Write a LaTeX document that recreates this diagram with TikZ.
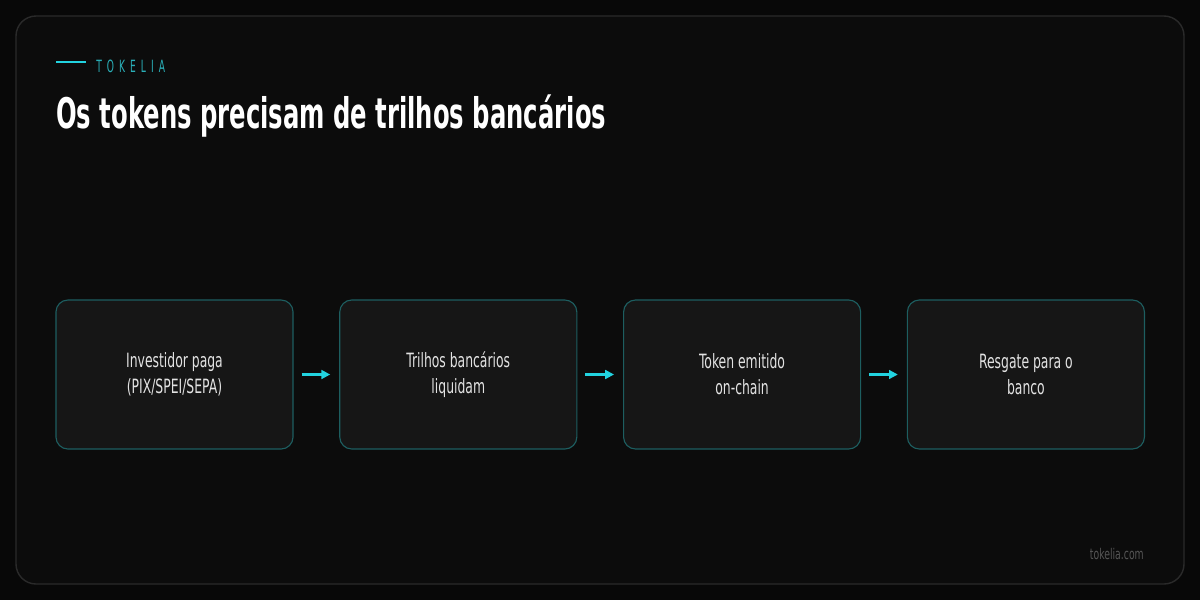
\documentclass[tikz,border=0pt]{standalone}
\usepackage{fontspec}
\setmainfont[FakeStretch=0.7]{DejaVu Sans Condensed}
\newfontfamily\titlefont[FakeStretch=0.64]{DejaVu Sans Condensed Bold}
\newfontfamily\kickerfont[FakeStretch=0.6,LetterSpace=30]{DejaVu Sans Condensed}
\usetikzlibrary{positioning, arrows.meta}

\definecolor{bgcol}{HTML}{080808}
\definecolor{framefill}{HTML}{0C0C0C}
\definecolor{framedraw}{HTML}{2A2A2A}
\definecolor{boxfill}{HTML}{161616}
\definecolor{boxdraw}{HTML}{1D5E60}
\definecolor{accent}{HTML}{22D3E0}
\definecolor{kicker}{HTML}{2AAFB8}
\definecolor{boxtext}{HTML}{E2E2E2}
\definecolor{foot}{HTML}{555555}

\tikzset{
  stepbox/.style={draw=boxdraw, line width=0.8pt, fill=boxfill, rounded corners=0.3cm,
    minimum width=5.925cm, minimum height=3.725cm, align=center,
    text=boxtext, font=\fontsize{14}{18.5}\selectfont},
  flow/.style={-{Triangle[length=0.22cm, width=0.22cm]}, draw=accent, line width=1.5pt,
    shorten <=0.2cm, shorten >=0.225cm}
}

\begin{document}
\begin{tikzpicture}[x=0.025cm, y=-0.025cm]
\fill[bgcol] (0,0) rectangle (1200,600);
\useasboundingbox (0,0) rectangle (1200,600);
\draw[framedraw, fill=framefill, line width=1pt, rounded corners=0.5cm] (16,16) rectangle (1184,584);

\coordinate (ka) at (56,62);
\coordinate (kb) at (86,62);
\draw[accent, line width=1.6pt] (ka) -- (kb);
\node[anchor=west, text=kicker, inner sep=0pt, font=\kickerfont\fontsize{12}{12}\selectfont]
    (kicker) at (96,66) {TOKELIA};
\node[anchor=base west, text=white, inner sep=0pt, font=\titlefont\fontsize{30}{30}\selectfont]
    (title) at (56,128) {Os tokens precisam de trilhos bancários};

\node[stepbox] (s1) at (174.5,374.5) {Investidor paga\\(PIX/SPEI/SEPA)};
\node[stepbox, right=1.14cm of s1] (s2) {Trilhos bancários\\liquidam};
\node[stepbox, right=1.14cm of s2] (s3) {Token emitido\\on-chain};
\node[stepbox, right=1.14cm of s3] (s4) {Resgate para o\\banco};

\draw
    (s1) edge[flow] (s2)
    (s2) edge[flow] (s3)
    (s3) edge[flow] (s4)
    ;

\node[anchor=base east, text=foot, inner sep=0pt, font=\fontsize{10.5}{10.5}\selectfont]
    (site) at (1144,559) {tokelia.com};
\end{tikzpicture}
\end{document}
